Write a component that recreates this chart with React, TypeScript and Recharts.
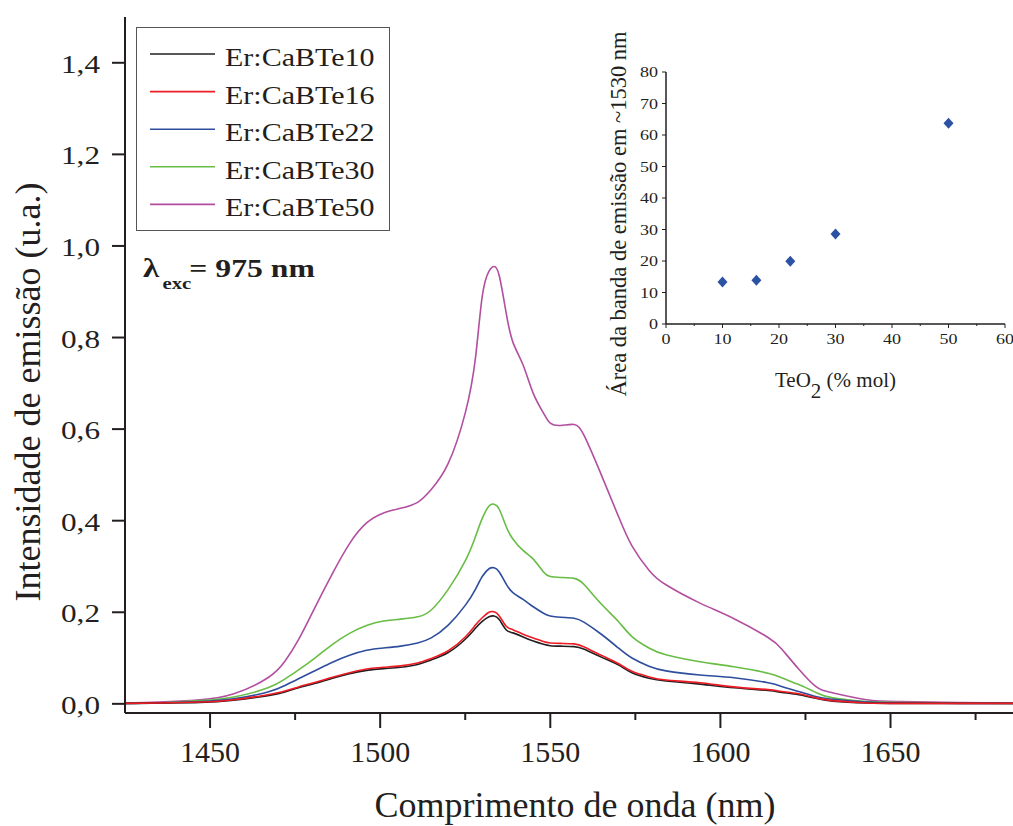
import { Line, LineChart, Scatter, ScatterChart, XAxis, YAxis } from "recharts";

// emission spectra
const wavelength = [
  1425, 1435, 1447, 1457, 1467, 1472, 1476, 1481, 1486, 1491, 1496, 1501, 1506, 1511, 1515, 1520,
  1525, 1528, 1530, 1532, 1533.5, 1535, 1537, 1539, 1542, 1545, 1548, 1550, 1553, 1557, 1560, 1565,
  1570, 1574, 1579, 1584, 1594, 1604, 1614, 1618, 1623, 1628, 1633, 1643, 1653, 1670, 1686,
];
const te10 = [
  0.001, 0.002, 0.003, 0.008, 0.018, 0.026, 0.035, 0.045, 0.056, 0.066, 0.073, 0.077, 0.08, 0.086,
  0.096, 0.112, 0.141, 0.165, 0.18, 0.19, 0.192, 0.184, 0.162, 0.155, 0.146, 0.137, 0.13, 0.127,
  0.126, 0.125, 0.119, 0.102, 0.085, 0.068, 0.056, 0.05, 0.043, 0.035, 0.029, 0.025, 0.02, 0.012,
  0.006, 0.002, 0.001, 0.001, 0.001,
];
const te16 = [
  0.001, 0.002, 0.004, 0.009, 0.02, 0.028, 0.037, 0.047, 0.058, 0.068, 0.076, 0.08, 0.083, 0.089,
  0.099, 0.116, 0.146, 0.172, 0.188, 0.2, 0.201, 0.192, 0.17, 0.162, 0.152, 0.144, 0.136, 0.133,
  0.132, 0.131, 0.124, 0.106, 0.088, 0.071, 0.059, 0.052, 0.046, 0.037, 0.031, 0.027, 0.022, 0.013,
  0.007, 0.002, 0.001, 0.001, 0.001,
];
const te22 = [
  0.001, 0.002, 0.005, 0.011, 0.026, 0.04, 0.055, 0.073, 0.091, 0.106, 0.117, 0.122, 0.126, 0.133,
  0.144, 0.172, 0.215, 0.25, 0.278, 0.295, 0.297, 0.288, 0.262, 0.243, 0.228, 0.212, 0.198, 0.192,
  0.189, 0.187, 0.178, 0.152, 0.122, 0.1, 0.082, 0.072, 0.063, 0.057, 0.046, 0.038, 0.027, 0.016,
  0.01, 0.004, 0.002, 0.001, 0.001,
];
const te30 = [
  0.001, 0.002, 0.007, 0.015, 0.035, 0.054, 0.074, 0.101, 0.13, 0.154, 0.171, 0.181, 0.185, 0.19,
  0.205, 0.25, 0.312, 0.365, 0.405, 0.432, 0.436, 0.425, 0.388, 0.36, 0.335, 0.316, 0.288, 0.278,
  0.276, 0.274, 0.26, 0.218, 0.18, 0.147, 0.122, 0.107, 0.092, 0.081, 0.067, 0.057, 0.042, 0.025,
  0.013, 0.005, 0.003, 0.002, 0.001,
];
const te50 = [
  0.002, 0.004, 0.009, 0.022, 0.057, 0.093, 0.14, 0.213, 0.285, 0.35, 0.395, 0.417, 0.427, 0.44,
  0.468, 0.525, 0.635, 0.755, 0.89, 0.945, 0.955, 0.935, 0.855, 0.79, 0.74, 0.678, 0.635, 0.613,
  0.608, 0.61, 0.585, 0.5, 0.41, 0.345, 0.292, 0.26, 0.22, 0.186, 0.145, 0.12, 0.076, 0.038, 0.024,
  0.009, 0.005, 0.003, 0.002,
];

const seriesNames = ["Er:CaBTe10", "Er:CaBTe16", "Er:CaBTe22", "Er:CaBTe30", "Er:CaBTe50"];
const seriesKeys = ["te10", "te16", "te22", "te30", "te50"];
const seriesColors = ["#231f20", "#ed1c24", "#2e4d9d", "#68bd45", "#b24fa0"];

const xTicks = [1450, 1475, 1500, 1525, 1550, 1575, 1600, 1625, 1650, 1675];
const yTicks = [0, 0.2, 0.4, 0.6, 0.8, 1.0, 1.2, 1.4];

// inset: band area vs TeO2 content
const teo2 = [10, 16, 22, 30, 50];
const bandArea = [13.3, 13.9, 19.9, 28.6, 63.7];
const insetXTicks = [0, 5, 10, 15, 20, 25, 30, 35, 40, 45, 50, 55, 60];
const insetYTicks = [0, 5, 10, 15, 20, 25, 30, 35, 40, 45, 50, 55, 60, 65, 70, 75, 80];

const rows = wavelength.map((nm, i) => ({
  nm,
  te10: te10[i],
  te16: te16[i],
  te22: te22[i],
  te30: te30[i],
  te50: te50[i],
}));
const insetRows = teo2.map((x, i) => ({ x, y: bandArea[i] }));

const AXIS = "#231f20";
const FONT = "Liberation Serif, Times New Roman, serif";

const MainXTick = ({ x, y, payload }: any) => {
  const major = payload.value % 50 === 0;
  return (
    <g>
      <line x1={x} x2={x} y1={y} y2={y + (major ? 15 : 7)} stroke={AXIS} strokeWidth={2} />
      {major && (
        <text x={x} y={y + 49} textAnchor="middle" fontSize={30} style={{ fontFamily: FONT }} fill={AXIS}>
          {payload.value}
        </text>
      )}
    </g>
  );
};

const MainYTick = ({ x, y, payload }: any) => (
  <g>
    <line x1={x - 13} x2={x} y1={y} y2={y} stroke={AXIS} strokeWidth={2} />
    <g transform={`translate(${x - 25},${y + 10}) scale(1.2,1)`}>
      <text textAnchor="end" fontSize={26} style={{ fontFamily: FONT }} fill={AXIS}>
        {payload.value.toFixed(1).replace(".", ",")}
      </text>
    </g>
  </g>
);

const InsetXTick = ({ x, y, payload }: any) => {
  const major = payload.value % 10 === 0;
  return (
    <g>
      <line x1={x} x2={x} y1={y} y2={y + (major ? 4 : 2)} stroke={AXIS} />
      {major && (
        <g transform={`translate(${x},${y + 20}) scale(1.2,1)`}>
          <text textAnchor="middle" fontSize={15} style={{ fontFamily: FONT }} fill={AXIS}>
            {payload.value}
          </text>
        </g>
      )}
    </g>
  );
};

const InsetYTick = ({ x, y, payload }: any) => {
  const major = payload.value % 10 === 0;
  return (
    <g>
      <line x1={x - (major ? 4 : 2)} x2={x} y1={y} y2={y} stroke={AXIS} />
      {major && (
        <g transform={`translate(${x - 8},${y + 5}) scale(1.2,1)`}>
          <text textAnchor="end" fontSize={15} style={{ fontFamily: FONT }} fill={AXIS}>
            {payload.value}
          </text>
        </g>
      )}
    </g>
  );
};

const Diamond = ({ cx, cy }: any) => (
  <polygon
    points={`${cx},${cy - 5.5} ${cx + 5},${cy} ${cx},${cy + 5.5} ${cx - 5},${cy}`}
    fill="#2c52a3"
  />
);

export default function App() {
  return (
    <div style={{ position: "absolute", left: 0, top: 0, width: 1013, height: 826, background: "#fff", fontFamily: FONT }}>
      <div style={{ position: "absolute", left: 0, top: 0 }}>
        <LineChart width={1013} height={826} data={rows} margin={{ top: 17, right: 0, bottom: 0, left: 0 }}>
          <XAxis
            dataKey="nm"
            type="number"
            domain={[1425, 1686]}
            allowDataOverflow
            ticks={xTicks}
            height={113}
            tickSize={0}
            tickMargin={0}
            tickLine={false}
            axisLine={{ stroke: AXIS, strokeWidth: 2 }}
            tick={<MainXTick />}
          />
          <XAxis
            xAxisId="top"
            orientation="top"
            type="number"
            domain={[1425, 1686]}
            height={0}
            tick={false}
            tickLine={false}
            axisLine={{ stroke: AXIS, strokeWidth: 2 }}
          />
          <YAxis
            type="number"
            domain={[-0.02, 1.5]}
            allowDataOverflow
            ticks={yTicks}
            width={125}
            tickSize={0}
            tickMargin={0}
            tickLine={false}
            axisLine={{ stroke: AXIS, strokeWidth: 2 }}
            tick={<MainYTick />}
          />
          {[4, 3, 2, 0, 1].map((i) => (
            <Line
              key={seriesKeys[i]}
              dataKey={seriesKeys[i]}
              name={seriesNames[i]}
              type="natural"
              stroke={seriesColors[i]}
              strokeWidth={1.6}
              dot={false}
              isAnimationActive={false}
            />
          ))}
        </LineChart>
      </div>

      <div style={{ position: "absolute", left: 600, top: 40 }}>
        <ScatterChart width={413} height={370} margin={{ top: 32, right: 8, bottom: 0, left: 0 }}>
          <XAxis
            dataKey="x"
            type="number"
            domain={[0, 60]}
            ticks={insetXTicks}
            height={86}
            tickSize={0}
            tickMargin={0}
            tickLine={false}
            axisLine={{ stroke: AXIS, strokeWidth: 1.5 }}
            tick={<InsetXTick />}
          />
          <XAxis xAxisId="top" orientation="top" type="number" domain={[0, 60]} height={0} tick={false} tickLine={false} axisLine={{ stroke: "#8a8a8a" }} />
          <YAxis
            dataKey="y"
            type="number"
            domain={[0, 80]}
            ticks={insetYTicks}
            width={66}
            tickSize={0}
            tickMargin={0}
            tickLine={false}
            axisLine={{ stroke: AXIS, strokeWidth: 1.5 }}
            tick={<InsetYTick />}
          />
          <YAxis yAxisId="right" orientation="right" type="number" domain={[0, 80]} width={0} tick={false} tickLine={false} axisLine={{ stroke: "#8a8a8a" }} />
          <Scatter data={insetRows} shape={<Diamond />} isAnimationActive={false} />
        </ScatterChart>
      </div>

      <svg width={1013} height={826} style={{ position: "absolute", left: 0, top: 0, pointerEvents: "none", fontFamily: FONT }} fill={AXIS}>
        {/* axis titles */}
        <text x={575} y={817} textAnchor="middle" fontSize={36}>
          Comprimento de onda (nm)
        </text>
        <text transform="translate(40,392) rotate(-90)" textAnchor="middle" fontSize={36}>
          Intensidade de emissão (u.a.)
        </text>

        {/* legend */}
        <rect x={136.5} y={27.5} width={253} height={203} fill="none" stroke="#555" strokeWidth={1} />
        {seriesNames.map((name, i) => {
          const cy = 54 + i * 37.6;
          return (
            <g key={name}>
              <line x1={150} x2={215} y1={cy} y2={cy} stroke={seriesColors[i]} strokeWidth={1.6} />
              <g transform={`translate(225,${cy + 12}) scale(1.2,1)`}>
                <text fontSize={25}>{name}</text>
              </g>
            </g>
          );
        })}

        {/* excitation wavelength */}
        <g transform="translate(143,277) scale(1.22,1)" fontWeight="bold">
          <text fontSize={27}>λ</text>
          <text x={16} y={12} fontSize={17}>exc</text>
          <text x={38} fontSize={26}>= 975 nm</text>
        </g>

        {/* inset titles */}
        <text transform="translate(626,214) rotate(-90)" textAnchor="middle" fontSize={22.5}>
          Área da banda de emissão em ~1530 nm
        </text>
        <text x={775} y={387} fontSize={21}>
          TeO<tspan dy={11}>2</tspan>
          <tspan dy={-11}> (% mol)</tspan>
        </text>
      </svg>
    </div>
  );
}
